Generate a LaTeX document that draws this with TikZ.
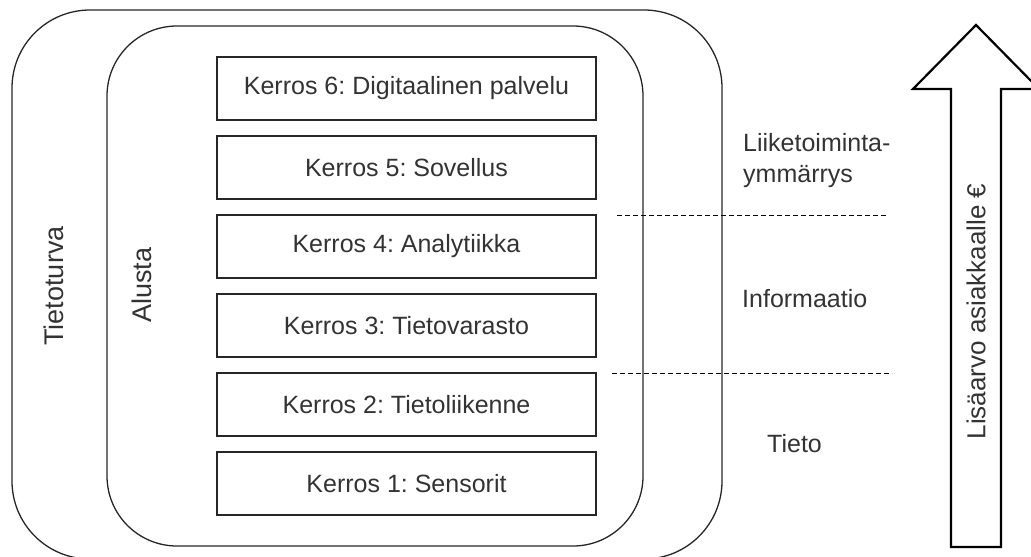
\documentclass[tikz,border=0pt]{standalone}
\usepackage{fontspec}
\setmainfont{Liberation Sans}
\frenchspacing
\begin{document}
\begin{tikzpicture}[x=1pt,y=-1pt,
  frame/.style={draw=black!85, line width=1.3pt, inner sep=0pt},
  layer/.style={draw=black!85, line width=1.3pt, minimum width=379pt, minimum height=63pt,
    inner sep=0pt, text=black!80, font=\fontsize{25}{30}\selectfont},
  label/.style={inner sep=0pt, text=black!80, font=\fontsize{25}{31}\selectfont},
  biglabel/.style={inner sep=0pt, text=black!80, font=\fontsize{27}{32}\selectfont, rotate=90},
  divider/.style={draw=black, line width=1pt, dash pattern=on 5pt off 3pt},
  valuearrow/.style={draw=black, line width=2.2pt, line join=miter, fill=white}]
\useasboundingbox (0,0) rectangle (1031,557);
\clip (0,0) rectangle (1031,557);

% security and platform frames
\node[frame, rounded corners=78pt, minimum width=710pt, minimum height=549pt] (security) at (367,284.5) {};
\node[frame, rounded corners=70pt, minimum width=536pt, minimum height=520pt] (platform) at (375,286) {};
\node[biglabel] (securitylabel) at (54,286) {Tietoturva};
\node[biglabel] (platformlabel) at (142,285) {Alusta};

% the six layers
\node[layer] (k6) at (406.5,88.5) {Kerros 6: Digitaalinen palvelu};
\node[layer] (k5) at (406.5,167.5) {Kerros 5: Sovellus};
\node[layer] (k4) at (406.5,246.5) {Kerros 4: Analytiikka};
\node[layer] (k3) at (406.5,325.5) {Kerros 3: Tietovarasto};
\node[layer] (k2) at (406.5,404.5) {Kerros 2: Tietoliikenne};
\node[layer] (k1) at (406.5,483.5) {Kerros 1: Sensorit};

% level dividers
\coordinate (d1a) at (617,215);
\coordinate (d1b) at (888,215);
\coordinate (d2a) at (612,373);
\coordinate (d2b) at (892,373);
\draw[divider] (d1a) -- (d1b);
\draw[divider] (d2a) -- (d2b);

% level labels
\node[label, anchor=north west, align=left] (business) at (743,133) {Liiketoiminta-\\ymmärrys};
\node[label, anchor=base west] (information) at (742,307) {Informaatio};
\node[label, anchor=base west] (data) at (767,452) {Tieto};

% value arrow
\draw[valuearrow] (976,25) -- (1039,89) -- (1001,89) -- (1001,547) -- (951,547) -- (951,89) -- (913,89) -- cycle;
\node[inner sep=0pt, text=black!80, font=\fontsize{26}{31}\selectfont, rotate=90] (value) at (976,311.5) {Lisäarvo asiakkaalle €};
\end{tikzpicture}
\end{document}
